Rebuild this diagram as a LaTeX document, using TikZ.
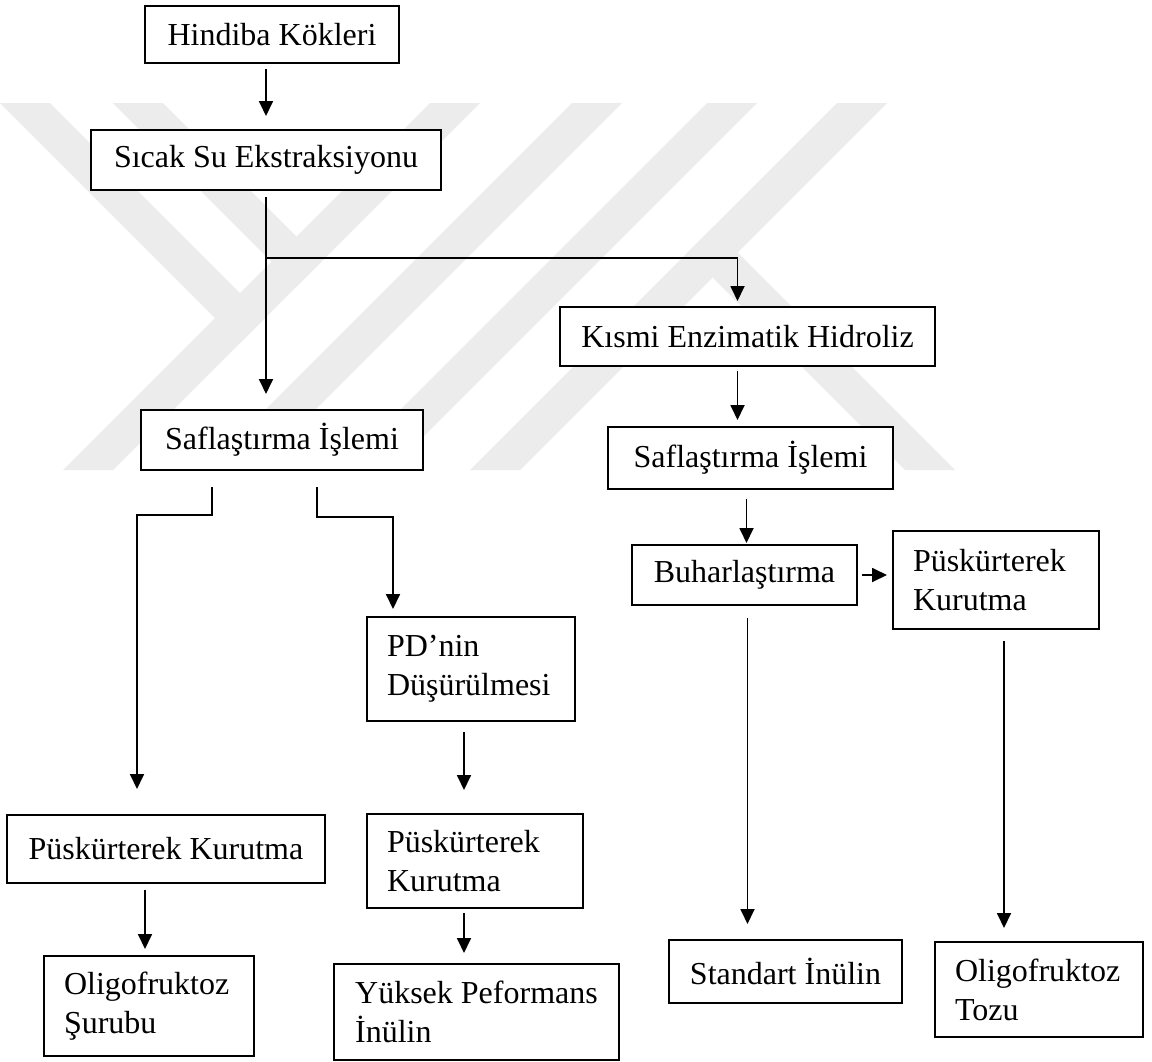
\documentclass[tikz,border=0pt]{standalone}
\usepackage{fontspec}
\setmainfont{Liberation Serif}
\usetikzlibrary{arrows.meta,calc}
\definecolor{wm}{RGB}{236,236,236}
\begin{document}
\begin{tikzpicture}[x=1pt,y=-1pt,
  box/.style={draw=black, line width=2pt, fill=white, inner sep=0pt,
    font=\fontsize{32}{39}\selectfont},
  arr/.style={line width=1.8pt, -{Triangle[width=14pt,length=15pt]}},
  wmark/.style={fill=wm, draw=none}]
\useasboundingbox (0,0) rectangle (1152,1061);
\fill[white] (0,0) rectangle (1152,1061);
% background watermark bands
\fill[wmark] (0,103) -- (50,103) -- (265,318) -- (240,343) -- cycle;
\fill[wmark] (113,103) -- (163,103) -- (321.5,261.5) -- (296.5,286.5) -- cycle;
\fill[wmark] (430,103) -- (480,103) -- (113,470) -- (63,470) -- cycle;
\fill[wmark] (572,103) -- (622,103) -- (255,470) -- (205,470) -- cycle;
\fill[wmark] (707,103) -- (757,103) -- (390,470) -- (340,470) -- cycle;
\fill[wmark] (837,103) -- (887,103) -- (520,470) -- (470,470) -- cycle;
\fill[wmark] (712.5,227.5) -- (687.5,252.5) -- (905,470) -- (955,470) -- cycle;
% boxes
\node[box, minimum width=254pt, minimum height=57pt] (hind) at (272,34.5) {Hindiba Kökleri};
\node[box, minimum width=350pt, minimum height=60pt] (sicak) at (266,160) {Sıcak Su Ekstraksiyonu};
\node[box, minimum width=375pt, minimum height=59pt] (kismi) at (747.5,336.5) {Kısmi Enzimatik Hidroliz};
\node[box, minimum width=282pt, minimum height=60pt] (safL) at (282,440) {Saflaştırma İşlemi};
\node[box, minimum width=285pt, minimum height=62pt] (safR) at (750.5,458) {Saflaştırma İşlemi};
\node[box, minimum width=225pt, minimum height=60pt] (buhar) at (744.5,575) {Buharlaştırma};
\node[box, minimum width=206pt, minimum height=98pt, text width=166pt, align=left] (pusR) at (996,580) {Püskürterek\\Kurutma};
\node[box, minimum width=208pt, minimum height=104pt, text width=168pt, align=left] (pd) at (471,669) {PD’nin\\Düşürülmesi};
\node[box, minimum width=318pt, minimum height=68pt] (pusL) at (166,849) {Püskürterek Kurutma};
\node[box, minimum width=216pt, minimum height=94pt, text width=176pt, align=left] (pusM) at (475,861) {Püskürterek\\Kurutma};
\node[box, minimum width=210pt, minimum height=100pt, text width=170pt, align=left] (oliS) at (149,1006) {Oligofruktoz\\Şurubu};
\node[box, minimum width=285pt, minimum height=96pt, align=left] (yuk) at (476.5,1012) {Yüksek Peformans\\İnülin};
\node[box, minimum width=233pt, minimum height=63pt] (std) at (785.5,971.5) {Standart İnülin};
\node[box, minimum width=208pt, minimum height=95pt, text width=168pt, align=left] (oliT) at (1039,989.5) {Oligofruktoz\\Tozu};
% connectors
\draw[arr, shorten <=5pt, shorten >=13pt] (hind.south -| sicak.north) -- (sicak.north);
\draw[arr, shorten <=6pt, shorten >=15pt] (sicak.south) -- (sicak.south |- safL.north);
\coordinate (br) at ($(sicak.south)+(0,67)$);
\draw[arr, shorten >=5pt] (br) -| ([xshift=-10pt]kismi.north);
\draw[arr, shorten <=4pt, shorten >=6pt] ([xshift=-10pt]kismi.south) -- ([xshift=-10pt]kismi.south |- safR.north);
\draw[arr, shorten <=9pt, shorten >=1pt] ([xshift=2pt]buhar.north |- safR.south) -- ([xshift=2pt]buhar.north);
\draw[arr, shorten >=25pt] ($(safL.south)+(-70,16)$) -- ++(0,28) -| ([xshift=-29pt]pusL.north);
\draw[arr, shorten >=7pt] ($(safL.south)+(35,16)$) -- ++(0,30) -| ([xshift=-78pt]pd.north);
\draw[arr, shorten <=10pt, shorten >=23pt] ([xshift=-7pt]pd.south) -- ([xshift=-7pt]pd.south |- pusM.north);
\draw[arr, shorten <=6pt, shorten >=6pt] ([xshift=-21pt]pusL.south) -- ([xshift=-21pt]pusL.south |- oliS.north);
\draw[arr, shorten <=4pt, shorten >=10pt] ([xshift=-11pt]pusM.south) -- ([xshift=-11pt]pusM.south |- yuk.north);
\draw[arr, shorten <=4pt, shorten >=5pt] (buhar.east) -- (buhar.east -| pusR.west);
\draw[arr, shorten <=12pt, shorten >=15pt] ([xshift=3pt]buhar.south) -- ([xshift=3pt]buhar.south |- std.north);
\draw[arr, shorten <=11pt, shorten >=13pt] ([xshift=8pt]pusR.south) -- ([xshift=8pt]pusR.south |- oliT.north);
\end{tikzpicture}
\end{document}
